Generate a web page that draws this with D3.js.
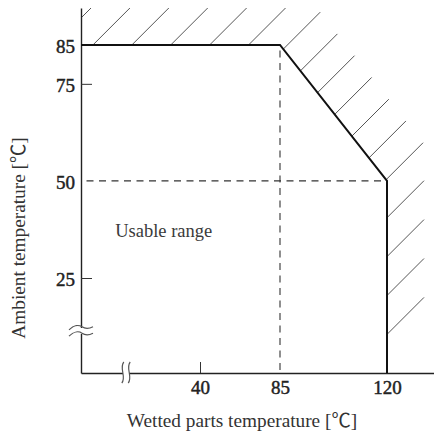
<!DOCTYPE html>
<html>
<head>
<meta charset="utf-8">
<script src="https://cdn.jsdelivr.net/npm/d3@7"></script>
<style>
  body { margin: 0; background: #fff; }
  text { font-family: "Liberation Serif", "Times New Roman", serif; }
  .cjk { font-family: "Noto Sans CJK JP", sans-serif; }
</style>
</head>
<body>
<svg id="chart" width="434" height="437"></svg>
<script>
// boundary of the usable range: wetted parts temp vs ambient temp
const wettedTemps = [0, 85, 120, 120];
const ambientTemps = [85, 85, 50, 0];

const xTickLabels = [40, 85, 120];
const yTickLabels = [25, 50, 75, 85];
const xTickMarks = [40];
const yTickMarks = [25, 75];

const guideWetted = [85];
const guideAmbient = [50];

const regionLabel = 'Usable range';
const regionLabelAt = [11.5, 35.5];
const xTitle = 'Wetted parts temperature';
const yTitle = 'Ambient temperature';
const unit = '℃';

const width = 434;
const height = 437;
const tickLen = 11;

// both axes are broken, so the scales are piecewise
const xScale = d3.scaleLinear()
  .domain([0, 40, 85, 120, 135])
  .range([81, 200, 280, 387, 434]);

const yScale = d3.scaleLinear()
  .domain([0, 25, 85, 94.5])
  .range([373, 278, 45, 8]);

const svg = d3.select('#chart');
svg.append('rect').attr('width', width).attr('height', height).attr('fill', '#fff');

const left = xScale(0);
const bottom = yScale(0);

// hatching outside the boundary
const pts = wettedTemps.map((w, i) => [xScale(w), yScale(ambientTemps[i])]);
const hatchPts = [[pts[0][0] - 60, pts[0][1]], ...pts];
const hatchLen = 37;
const hatchStep = 38.9;
const hatches = [];
for (let c = 99; c <= 762; c += hatchStep) {
  for (let i = 0; i < hatchPts.length - 1; i++) {
    const p = hatchPts[i];
    const q = hatchPts[i + 1];
    const fp = p[0] + p[1] - c;
    const fq = q[0] + q[1] - c;
    if ((fp <= 0 && fq >= 0) || (fp >= 0 && fq <= 0)) {
      const t = fp === fq ? 0 : fp / (fp - fq);
      hatches.push([p[0] + (q[0] - p[0]) * t, p[1] + (q[1] - p[1]) * t]);
      break;
    }
  }
}

svg.append('clipPath').attr('id', 'hatchClip')
  .append('rect')
  .attr('x', left).attr('y', 0)
  .attr('width', width - left).attr('height', height);

svg.append('g')
  .attr('clip-path', 'url(#hatchClip)')
  .selectAll('line')
  .data(hatches)
  .enter()
  .append('line')
  .attr('x1', (d) => d[0])
  .attr('y1', (d) => d[1])
  .attr('x2', (d) => d[0] + hatchLen)
  .attr('y2', (d) => d[1] - hatchLen)
  .attr('stroke', '#555')
  .attr('stroke-width', 1);

// dashed guides
const guides = svg.append('g')
  .attr('stroke', '#333')
  .attr('stroke-width', 1.1)
  .attr('stroke-dasharray', '7,5.5')
  .attr('stroke-dashoffset', 7);

guides.selectAll('line.v')
  .data(guideWetted)
  .enter()
  .append('line')
  .attr('class', 'v')
  .attr('x1', (d) => xScale(d))
  .attr('x2', (d) => xScale(d))
  .attr('y1', yScale(85))
  .attr('y2', bottom);

guides.selectAll('line.h')
  .data(guideAmbient)
  .enter()
  .append('line')
  .attr('class', 'h')
  .attr('y1', (d) => yScale(d))
  .attr('y2', (d) => yScale(d))
  .attr('x1', left)
  .attr('x2', xScale(120));

// axes
const leftAxis = d3.axisLeft(yScale)
  .tickValues(yTickLabels)
  .tickSizeInner(-tickLen)
  .tickSizeOuter(0)
  .tickPadding(6);

const yAxisG = svg.append('g')
  .attr('transform', `translate(${left}, 0)`)
  .call(leftAxis);

const bottomAxis = d3.axisBottom(xScale)
  .tickValues(xTickLabels)
  .tickSizeInner(-tickLen)
  .tickSizeOuter(0)
  .tickPadding(7.5);

const xAxisG = svg.append('g')
  .attr('transform', `translate(0, ${bottom})`)
  .call(bottomAxis);

[yAxisG, xAxisG].forEach((g) => {
  g.select('.domain').attr('stroke', '#222').attr('stroke-width', 1.4);
  g.selectAll('.tick line').attr('stroke', '#333').attr('stroke-width', 1);
  g.selectAll('.tick text')
    .attr('font-family', '"Liberation Serif", serif')
    .attr('font-size', 19)
    .attr('fill', '#222')
    .attr('stroke', '#222')
    .attr('stroke-width', 0.45);
});

yAxisG.selectAll('.tick line').filter((d) => !yTickMarks.includes(d)).remove();
xAxisG.selectAll('.tick line').filter((d) => !xTickMarks.includes(d)).remove();
yAxisG.selectAll('.tick text').attr('dy', '0.4em');

// boundary of the usable range
svg.append('path')
  .datum(wettedTemps.map((w, i) => [w, ambientTemps[i]]))
  .attr('fill', 'none')
  .attr('stroke', '#111')
  .attr('stroke-width', 2)
  .attr('d', d3.line().x((d) => xScale(d[0])).y((d) => yScale(d[1])));

// axis break marks
const yBreak = 331;
const xBreak = 126;

svg.append('rect')
  .attr('x', left - 3).attr('y', yBreak - 3)
  .attr('width', 6).attr('height', 6)
  .attr('fill', '#fff');
svg.append('rect')
  .attr('x', xBreak - 3).attr('y', bottom - 3)
  .attr('width', 6).attr('height', 6)
  .attr('fill', '#fff');

const breaks = svg.append('g')
  .attr('fill', 'none')
  .attr('stroke', '#555')
  .attr('stroke-width', 1.2);

[-3.2, 3.2].forEach((o) => {
  breaks.append('path')
    .attr('transform', `translate(${left}, ${yBreak + o})`)
    .attr('d', 'M-12,2 C-7,-3 -2,-3 1,-1 S8,1 12,-1');
  breaks.append('path')
    .attr('transform', `translate(${xBreak + o}, ${bottom})`)
    .attr('d', 'M1,-11 C-4,-5 4,4 -1,10');
});

// region label
svg.append('text')
  .attr('x', xScale(regionLabelAt[0]))
  .attr('y', yScale(regionLabelAt[1]))
  .attr('font-size', 18.5)
  .attr('fill', '#3a3a3a')
  .text(regionLabel);

// axis titles
const addTitle = (sel, label) => {
  sel.append('tspan').text(`${label} [`);
  sel.append('tspan').attr('class', 'cjk').text(unit);
  sel.append('tspan').text(']');
};

const xt = svg.append('text')
  .attr('x', 242)
  .attr('y', 427)
  .attr('text-anchor', 'middle')
  .attr('font-size', 19.3)
  .attr('fill', '#333');
addTitle(xt, xTitle);

const yt = svg.append('text')
  .attr('transform', 'translate(25, 238) rotate(-90)')
  .attr('text-anchor', 'middle')
  .attr('font-size', 19.3)
  .attr('fill', '#333');
addTitle(yt, yTitle);
</script>
</body>
</html>
